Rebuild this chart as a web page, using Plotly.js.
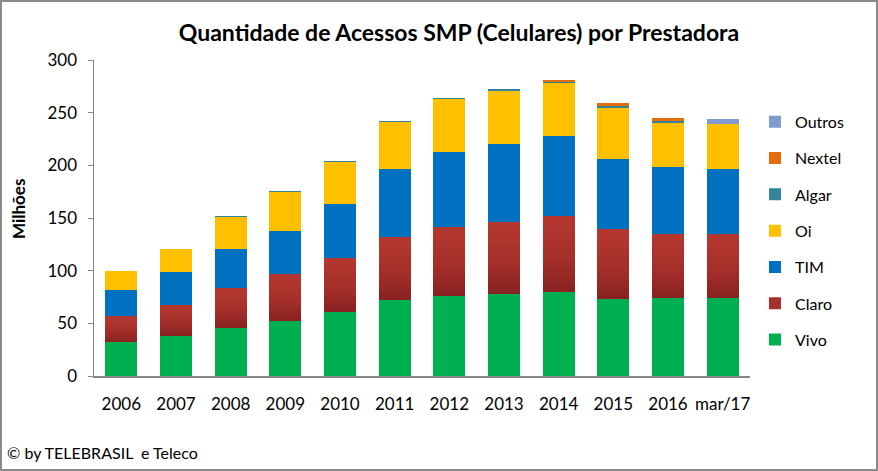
<!DOCTYPE html>
<html>
<head>
<meta charset="utf-8">
<script src="https://cdn.plot.ly/plotly-3.0.1.min.js"></script>
<style>
  html, body { margin: 0; padding: 0; background: #fff; }
  #wrap { position: relative; width: 878px; height: 471px; }
  #chart { width: 878px; height: 471px; }
  #frame { position: absolute; left: 0; top: 0; width: 878px; height: 471px; box-sizing: border-box; border: 2px solid #8a8a8a; pointer-events: none; }
</style>
</head>
<body>
<div id="wrap"><div id="chart"></div><div id="frame"></div></div>
<script>
const categories = ['2006','2007','2008','2009','2010','2011','2012','2013','2014','2015','2016','mar/17'];
const vivo   = [32, 38, 45.5, 52.2, 60.8, 72.2, 76, 77.9, 79.8, 73.1, 74, 74];
const claro  = [25, 29.4, 38, 44.6, 51.2, 59.5, 65.5, 68.3, 72.1, 66.5, 60.8, 60.8];
const tim    = [24.7, 31.3, 37.1, 40.9, 51, 64.8, 71.2, 74.1, 76, 66.4, 63.7, 61.7];
const oi     = [18, 21.9, 30.7, 36.8, 40, 44.5, 50, 50.6, 50, 48.7, 42, 43];
const algar  = [0, 0, 0.6, 0.8, 0.8, 1.0, 1.0, 1.2, 1.5, 1.4, 1.3, 0];
const nextel = [0, 0, 0, 0, 0, 0, 0, 0, 1.2, 2.8, 3.2, 0];
const outros = [0, 0, 0, 0, 0, 0, 0, 0, 0, 0, 0, 4.5];
const yTicks = [0, 50, 100, 150, 200, 250, 300];

const seriesNames = ['Vivo','Claro','TIM','Oi','Algar','Nextel','Outros'];
const seriesData  = [vivo, claro, tim, oi, algar, nextel, outros];
const seriesColors = ['#00b050','#a8302c','#0070c0','#ffc000','#31849b','#e46c0a','#7f9bcf'];

const FONT = 'Lato, Calibri, "Open Sans", sans-serif';

const traces = seriesNames.map((n, i) => ({
  type: 'bar',
  name: n,
  x: categories,
  y: seriesData[i],
  marker: { color: seriesColors[i], line: { width: 0 } },
  legendgroup: n,
  legendrank: seriesNames.length - i,
  hoverinfo: 'skip'
}));

const layout = {
  width: 878, height: 471,
  barmode: 'stack',
  bargap: 0.415,
  paper_bgcolor: '#fff', plot_bgcolor: '#fff',
  margin: { l: 94, r: 128, t: 60, b: 95 },
  font: { family: FONT, color: '#000' },
  title: {
    text: '<b>Quantidade de Acessos SMP (Celulares) por Prestadora</b>',
    font: { family: FONT, size: 23, color: '#000' },
    x: 459/878, xref: 'container', xanchor: 'center',
    y: 0.93, yref: 'container', yanchor: 'middle'
  },
  xaxis: {
    type: 'category',
    showline: true, linecolor: '#868686', linewidth: 1.5,
    ticks: '', showgrid: false, zeroline: false,
    tickfont: { family: FONT, size: 17, color: '#000' },
    ticklabelstandoff: 12
  },
  yaxis: {
    range: [0, 300],
    tickvals: yTicks,
    showline: true, linecolor: '#868686', linewidth: 1.5,
    ticks: 'outside', ticklen: 5, tickcolor: '#868686',
    showgrid: false, zeroline: false,
    tickfont: { family: FONT, size: 17, color: '#000' },
    ticklabelstandoff: 7
  },
  legend: {
    x: 1.0076, xanchor: 'left', y: 0.858, yanchor: 'top',
    traceorder: 'grouped',
    tracegroupgap: 12.5,
    font: { family: FONT, size: 16, color: '#000' },
    bgcolor: 'rgba(0,0,0,0)'
  },
  annotations: [{
    text: '<b>Milhões</b>',
    xref: 'paper', yref: 'paper',
    x: -76/656, y: (376-209)/316, xanchor: 'center', yanchor: 'middle',
    textangle: -90, showarrow: false,
    font: { family: FONT, size: 17, color: '#000' }
  }, {
    text: '© by TELEBRASIL  e Teleco',
    xref: 'paper', yref: 'paper',
    x: -89/656, y: -76/316, xanchor: 'left', yanchor: 'middle',
    showarrow: false,
    font: { family: FONT, size: 16, color: '#000' }
  }]
};

Plotly.newPlot('chart', traces, layout, { staticPlot: true, displayModeBar: false }).then(gd => {
  const svg = gd.querySelector('.main-svg');
  const defs = svg.querySelector('defs');
  const ns = 'http://www.w3.org/2000/svg';
  const grad = document.createElementNS(ns, 'linearGradient');
  grad.setAttribute('id', 'claroGrad');
  grad.setAttribute('x1', '0'); grad.setAttribute('y1', '0');
  grad.setAttribute('x2', '0'); grad.setAttribute('y2', '1');
  [['0', '#b5382f'], ['0.55', '#a62f2a'], ['1', '#872220']].forEach(([o, c]) => {
    const s = document.createElementNS(ns, 'stop');
    s.setAttribute('offset', o); s.setAttribute('stop-color', c);
    grad.appendChild(s);
  });
  defs.appendChild(grad);
  const tracesG = gd.querySelectorAll('.barlayer .trace');
  if (tracesG[1]) {
    tracesG[1].querySelectorAll('path').forEach(p => { p.style.fill = 'url(#claroGrad)'; });
  }
});
</script>
</body>
</html>
